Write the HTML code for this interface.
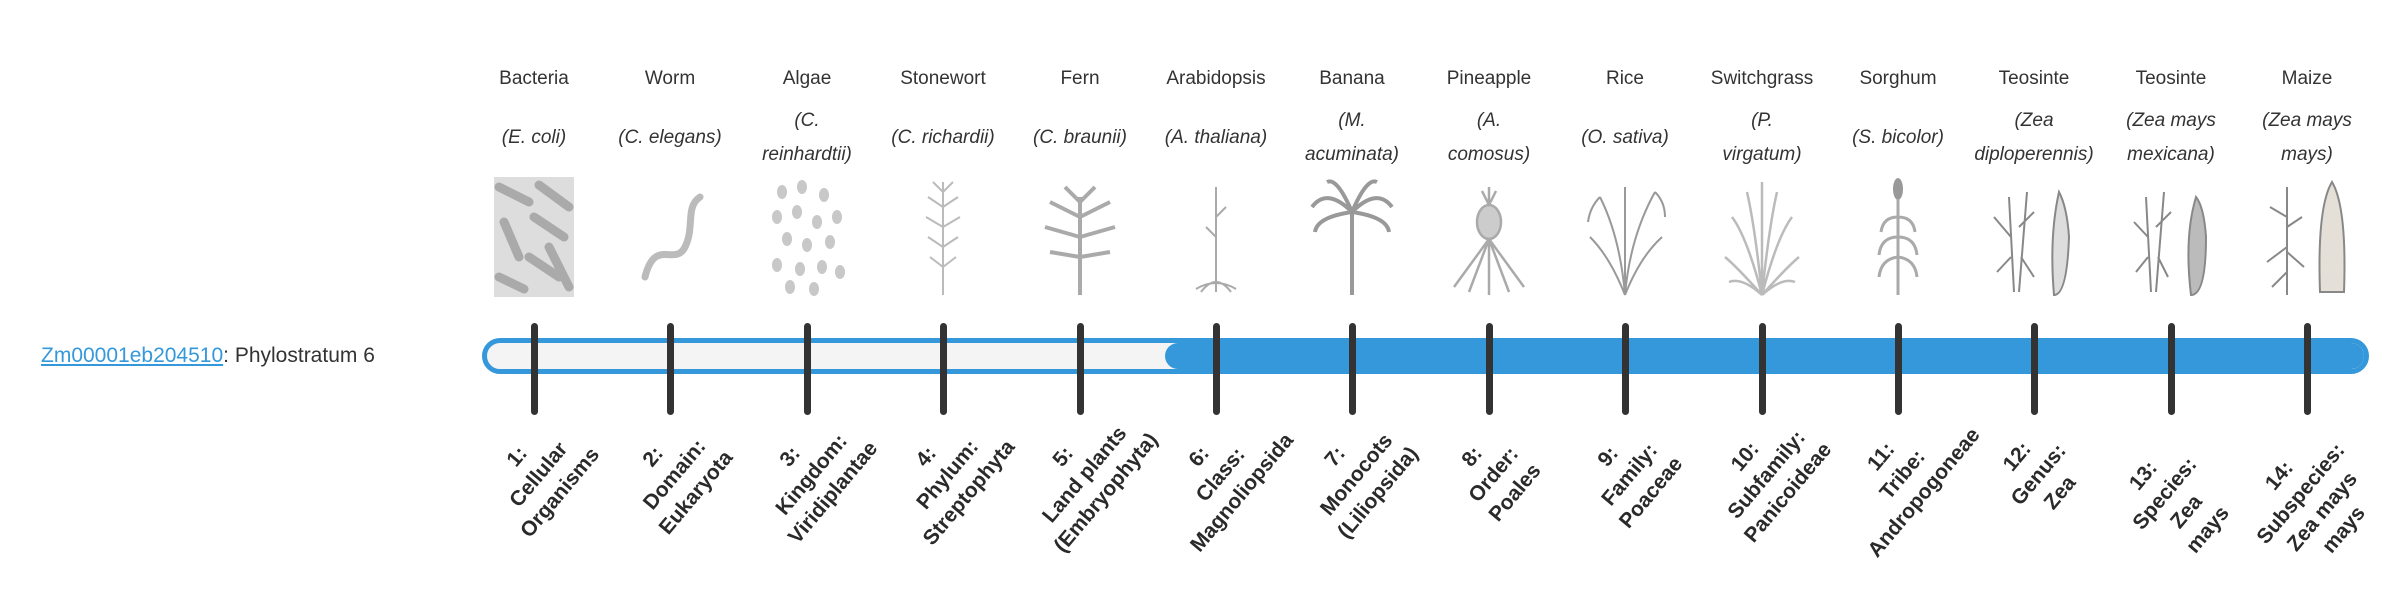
<!DOCTYPE html>
<html><head><meta charset="utf-8"><style>
body{margin:0;width:2400px;height:580px;background:#fff;position:relative;overflow:hidden;font-family:"Liberation Sans",sans-serif;color:#333}
.h{position:absolute;top:68px;width:136px;margin-left:-68px;text-align:center;font-size:19px}
.s{position:absolute;top:100px;height:76px;width:136px;margin-left:-68px;display:flex;align-items:center;justify-content:center;text-align:center;font-style:italic;font-size:19px;line-height:34px}
.im{position:absolute;top:177px;width:90px;height:120px;margin-left:-45px}
.t{position:absolute;top:323px;width:7px;margin-left:-3.5px;height:92px;background:#333;border-radius:4px}
.b{position:absolute;top:478px;width:200px;margin-left:-95px;margin-top:-45px;text-align:center;font-weight:bold;font-size:21px;line-height:28px;color:#2a2a2a;transform:rotate(-50deg)}
</style></head><body>
<div style="position:absolute;left:41px;top:344px;font-size:21px"><span style="color:#3498db;text-decoration:underline">Zm00001eb204510</span>: Phylostratum 6</div>
<div style="position:absolute;left:482px;top:338px;width:1887px;height:36px;box-sizing:border-box;border:5px solid #3498db;border-radius:18px;background:#f4f4f4;overflow:hidden">
<div style="position:absolute;left:678px;top:0;right:0;bottom:0;background:#3498db;border-radius:14px 0 0 14px"></div></div>

<div class="h" style="left:534px">Bacteria</div><div class="s" style="left:534px">(E. coli)</div>
<div class="h" style="left:670px">Worm</div><div class="s" style="left:670px">(C. elegans)</div>
<div class="h" style="left:807px">Algae</div><div class="s" style="left:807px">(C.<br>reinhardtii)</div>
<div class="h" style="left:943px">Stonewort</div><div class="s" style="left:943px">(C. richardii)</div>
<div class="h" style="left:1080px">Fern</div><div class="s" style="left:1080px">(C. braunii)</div>
<div class="h" style="left:1216px">Arabidopsis</div><div class="s" style="left:1216px">(A. thaliana)</div>
<div class="h" style="left:1352px">Banana</div><div class="s" style="left:1352px">(M.<br>acuminata)</div>
<div class="h" style="left:1489px">Pineapple</div><div class="s" style="left:1489px">(A.<br>comosus)</div>
<div class="h" style="left:1625px">Rice</div><div class="s" style="left:1625px">(O. sativa)</div>
<div class="h" style="left:1762px">Switchgrass</div><div class="s" style="left:1762px">(P.<br>virgatum)</div>
<div class="h" style="left:1898px">Sorghum</div><div class="s" style="left:1898px">(S. bicolor)</div>
<div class="h" style="left:2034px">Teosinte</div><div class="s" style="left:2034px">(Zea<br>diploperennis)</div>
<div class="h" style="left:2171px">Teosinte</div><div class="s" style="left:2171px">(Zea mays<br>mexicana)</div>
<div class="h" style="left:2307px">Maize</div><div class="s" style="left:2307px">(Zea mays<br>mays)</div>

<svg class="im" style="left:534px" viewBox="0 0 90 120"><rect x="5" y="0" width="80" height="120" fill="#ddd"/><g stroke="#aaa" stroke-width="9" stroke-linecap="round"><line x1="10" y1="10" x2="40" y2="25"/><line x1="50" y1="8" x2="80" y2="30"/><line x1="15" y1="45" x2="30" y2="80"/><line x1="45" y1="40" x2="75" y2="60"/><line x1="40" y1="80" x2="70" y2="100"/><line x1="10" y1="100" x2="35" y2="112"/><line x1="60" y1="70" x2="80" y2="110"/></g></svg>
<svg class="im" style="left:670px" viewBox="0 0 90 120"><path d="M20 100 C30 60 50 90 60 70 C70 50 60 30 75 20" stroke="#bbb" stroke-width="7" fill="none" stroke-linecap="round"/></svg>
<svg class="im" style="left:807px" viewBox="0 0 90 120" fill="#c8c8c8"><g><ellipse cx="20" cy="15" rx="5" ry="7"/><ellipse cx="40" cy="10" rx="5" ry="7"/><ellipse cx="62" cy="18" rx="5" ry="7"/><ellipse cx="15" cy="40" rx="5" ry="7"/><ellipse cx="35" cy="35" rx="5" ry="7"/><ellipse cx="55" cy="45" rx="5" ry="7"/><ellipse cx="75" cy="40" rx="5" ry="7"/><ellipse cx="25" cy="62" rx="5" ry="7"/><ellipse cx="45" cy="68" rx="5" ry="7"/><ellipse cx="68" cy="65" rx="5" ry="7"/><ellipse cx="15" cy="88" rx="5" ry="7"/><ellipse cx="38" cy="92" rx="5" ry="7"/><ellipse cx="60" cy="90" rx="5" ry="7"/><ellipse cx="78" cy="95" rx="5" ry="7"/><ellipse cx="28" cy="110" rx="5" ry="7"/><ellipse cx="52" cy="112" rx="5" ry="7"/></g></svg>
<svg class="im" style="left:943px" viewBox="0 0 90 120" stroke="#bbb" fill="none" stroke-width="2"><line x1="45" y1="5" x2="45" y2="118"/><path d="M45 30 L30 20 M45 30 L60 20 M45 50 L28 40 M45 50 L62 40 M45 70 L30 60 M45 70 L60 60 M45 90 L32 80 M45 90 L58 80 M45 15 L35 5 M45 15 L55 5"/></svg>
<svg class="im" style="left:1080px" viewBox="0 0 90 120" stroke="#aaa" fill="none" stroke-width="4"><path d="M45 118 L45 20 M45 40 L15 25 M45 40 L75 25 M45 60 L10 50 M45 60 L80 50 M45 80 L15 75 M45 80 L75 75 M45 25 L30 10 M45 25 L60 10"/></svg>
<svg class="im" style="left:1216px" viewBox="0 0 90 120" stroke="#aaa" fill="none" stroke-width="2"><path d="M45 115 L45 10 M45 40 L55 30 M45 60 L35 50 M30 115 Q45 95 60 115 M25 112 Q45 100 65 112"/></svg>
<svg class="im" style="left:1352px" viewBox="0 0 90 120" stroke="#999" fill="none" stroke-width="4"><path d="M45 118 L45 35 M45 35 Q20 10 5 30 M45 35 Q70 10 85 30 M45 35 Q30 0 20 5 M45 35 Q60 0 70 5 M45 35 Q10 40 8 55 M45 35 Q80 40 82 55"/></svg>
<svg class="im" style="left:1489px" viewBox="0 0 90 120" stroke="#aaa" fill="none" stroke-width="2.5"><ellipse cx="45" cy="45" rx="12" ry="17" fill="#ccc"/><path d="M45 28 L45 10 M45 28 L38 14 M45 28 L52 14 M45 62 L10 110 M45 62 L80 110 M45 62 L25 115 M45 62 L65 115 M45 62 L45 118"/></svg>
<svg class="im" style="left:1625px" viewBox="0 0 90 120" stroke="#999" fill="none" stroke-width="2"><path d="M45 118 Q40 60 20 20 M45 118 Q50 60 75 15 M45 118 Q45 60 45 10 M45 118 Q30 80 10 60 M45 118 Q60 80 82 60 M20 20 Q10 30 8 45 M75 15 Q85 25 85 40"/></svg>
<svg class="im" style="left:1762px" viewBox="0 0 90 120" stroke="#bbb" fill="none" stroke-width="2.5"><path d="M45 118 L45 5 M45 118 Q30 60 15 40 M45 118 Q60 60 75 40 M45 118 Q20 90 8 80 M45 118 Q70 90 82 80 M45 118 Q38 50 30 15 M45 118 Q52 50 60 15 M45 118 Q25 100 12 105 M45 118 Q65 100 78 105"/></svg>
<svg class="im" style="left:1898px" viewBox="0 0 90 120" stroke="#aaa" fill="none" stroke-width="3"><ellipse cx="45" cy="12" rx="5" ry="11" fill="#999" stroke="none"/><path d="M45 22 L45 118 M45 40 Q30 40 28 55 M45 40 Q60 40 62 55 M45 60 Q28 60 26 78 M45 60 Q62 60 64 78 M45 80 Q28 82 26 100 M45 80 Q62 82 64 100"/></svg>
<svg class="im" style="left:2034px" viewBox="0 0 90 120" stroke="#888" fill="none" stroke-width="2"><path d="M25 115 L20 20 M30 115 L38 15 M22 60 L5 40 M30 50 L45 35 M22 80 L8 95 M32 80 L45 100"/><path d="M70 15 Q60 60 65 118 Q78 118 80 60 Q78 30 70 15Z" fill="#ddd"/></svg>
<svg class="im" style="left:2171px" viewBox="0 0 90 120" stroke="#888" fill="none" stroke-width="2"><path d="M25 115 L20 20 M30 115 L38 15 M22 60 L8 45 M30 50 L45 35 M22 80 L10 95 M32 80 L42 100"/><path d="M70 20 Q58 60 65 118 Q80 118 80 60 Q78 30 70 20Z" fill="#bbb"/></svg>
<svg class="im" style="left:2307px" viewBox="0 0 90 120" stroke="#888" fill="none" stroke-width="2"><path d="M25 118 L25 10 M25 40 L8 30 M25 50 L40 40 M25 70 L5 85 M25 75 L42 90 M25 95 L10 110"/><path d="M70 5 Q55 30 58 115 L82 115 Q85 30 70 5Z" fill="#e4e0d8"/></svg>

<div class="t" style="left:534px"></div><div class="t" style="left:670px"></div><div class="t" style="left:807px"></div><div class="t" style="left:943px"></div><div class="t" style="left:1080px"></div><div class="t" style="left:1216px"></div><div class="t" style="left:1352px"></div><div class="t" style="left:1489px"></div><div class="t" style="left:1625px"></div><div class="t" style="left:1762px"></div><div class="t" style="left:1898px"></div><div class="t" style="left:2034px"></div><div class="t" style="left:2171px"></div><div class="t" style="left:2307px"></div>

<div class="b" style="left:534px">1:<br>Cellular<br>Organisms</div>
<div class="b" style="left:670px">2:<br>Domain:<br>Eukaryota</div>
<div class="b" style="left:807px">3:<br>Kingdom:<br>Viridiplantae</div>
<div class="b" style="left:943px">4:<br>Phylum:<br>Streptophyta</div>
<div class="b" style="left:1080px">5:<br>Land plants<br>(Embryophyta)</div>
<div class="b" style="left:1216px">6:<br>Class:<br>Magnoliopsida</div>
<div class="b" style="left:1352px">7:<br>Monocots<br>(Liliopsida)</div>
<div class="b" style="left:1489px">8:<br>Order:<br>Poales</div>
<div class="b" style="left:1625px">9:<br>Family:<br>Poaceae</div>
<div class="b" style="left:1762px">10:<br>Subfamily:<br>Panicoideae</div>
<div class="b" style="left:1898px">11:<br>Tribe:<br>Andropogoneae</div>
<div class="b" style="left:2034px">12:<br>Genus:<br>Zea</div>
<div class="b" style="left:2171px;top:492px">13:<br>Species:<br>Zea<br>mays</div>
<div class="b" style="left:2307px;top:492px">14:<br>Subspecies:<br>Zea mays<br>mays</div>
</body></html>
